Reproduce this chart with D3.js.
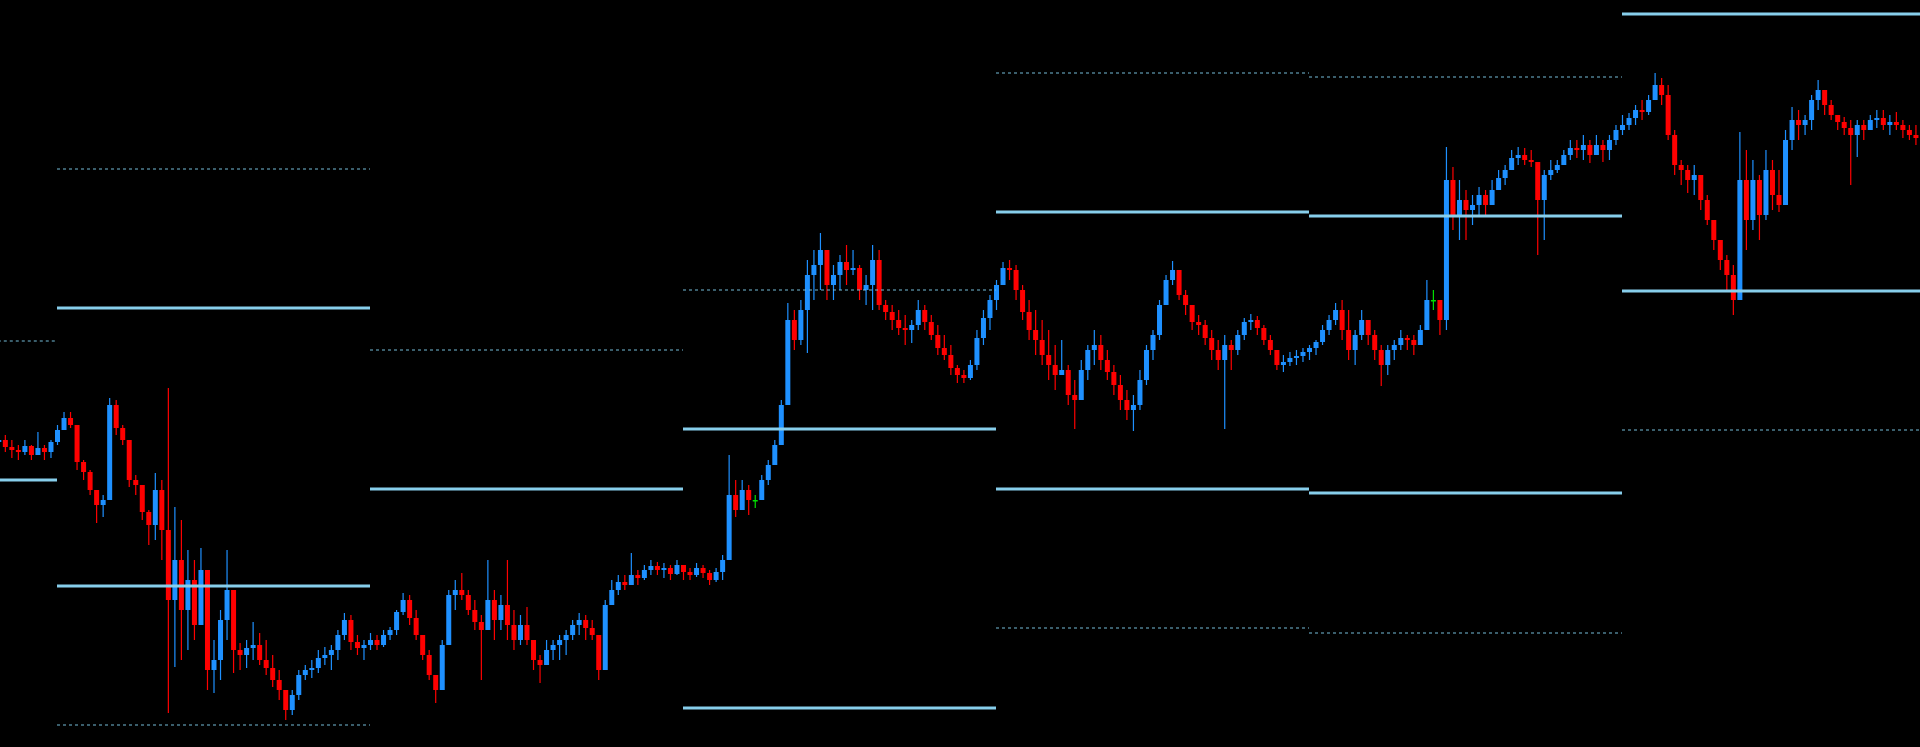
<!DOCTYPE html>
<html><head><meta charset="utf-8">
<script src="https://cdn.jsdelivr.net/npm/d3@7"></script>
<style>html,body{margin:0;padding:0;background:#000;overflow:hidden}</style>
</head><body>
<svg id="chart" width="1920" height="747"></svg>
<script>
// ---- price data (points) ----
const firstOpen = 305;
const highs = [317,312,307,302,307,302,315,302,307,322,335,335,322,287,277,257,252,349,347,322,
307,272,262,237,274,267,359,240,227,197,187,199,147,107,137,197,147,104,107,125,
114,107,92,77,54,57,77,82,87,97,100,102,117,134,132,112,107,114,112,117,
120,137,154,152,137,112,97,67,107,157,167,174,157,147,132,187,157,152,187,137,
132,140,107,92,107,107,112,117,127,134,132,127,107,147,167,172,172,194,177,182,
187,185,184,182,187,182,179,184,182,177,179,192,292,267,267,262,252,272,287,307,
347,444,437,447,487,497,514,497,482,492,502,497,482,472,502,497,447,442,437,432,
427,447,442,432,422,412,402,382,377,387,417,437,452,467,485,487,482,462,447,437,
427,417,402,407,382,367,387,402,417,412,397,382,372,357,352,377,402,417,447,472,
486,472,457,442,432,427,417,407,412,407,417,429,433,431,422,412,397,392,395,397,
399,402,407,422,432,444,447,437,417,437,427,417,402,402,407,417,412,412,422,467,
457,442,600,580,567,557,552,560,557,567,577,582,597,600,599,597,580,577,587,587,
597,607,607,612,607,612,607,612,622,632,634,642,647,652,674,669,662,617,587,582,
582,572,552,522,507,492,482,615,597,587,572,597,587,577,617,640,637,632,652,667,
657,647,632,630,627,627,627,632,637,637,632,635,627,622,622];
const lows = [300,295,289,287,292,287,292,287,289,302,317,319,277,267,252,224,230,247,312,302,
260,252,227,202,207,187,34,80,87,97,107,127,57,54,67,107,74,77,79,87,
82,72,60,47,27,32,47,67,69,74,82,77,87,107,97,92,87,97,97,100,
107,112,132,122,107,87,67,44,57,107,137,147,132,117,67,117,107,117,107,97,
102,102,77,64,82,87,87,92,107,112,107,107,67,77,142,152,157,162,162,167,
172,172,169,167,172,167,167,170,169,162,165,167,187,230,237,232,239,247,262,282,
302,347,397,402,394,447,457,447,447,457,462,472,447,442,437,437,427,417,412,402,
404,417,417,407,392,387,372,364,364,367,377,402,417,437,462,467,447,427,407,392,
382,367,357,372,342,318,347,367,382,377,367,352,337,327,316,337,362,387,407,442,
462,447,432,417,412,402,387,377,318,377,392,407,417,412,402,392,377,375,381,382,
385,387,392,402,412,422,407,387,382,407,402,387,361,372,387,397,397,392,402,417,
437,412,417,517,507,507,522,530,532,542,557,562,577,582,582,580,492,507,567,574,
582,587,589,587,584,592,585,587,602,612,617,622,627,632,647,642,607,572,562,554,
552,537,522,497,477,457,432,447,497,517,507,527,537,535,557,597,607,612,617,637,
632,627,617,612,562,590,607,617,619,617,612,617,609,607,602];
const closes = [307,300,297,295,301,292,299,295,305,317,329,322,285,275,257,242,247,342,319,307,
267,262,235,222,257,217,147,187,137,167,122,177,77,87,127,157,97,92,99,102,
87,79,67,57,37,52,72,77,79,89,92,97,112,127,105,99,102,107,102,112,
117,135,147,129,112,92,72,57,102,152,157,152,137,125,117,147,127,142,122,107,
122,107,87,82,97,102,107,112,122,127,119,112,77,142,157,165,162,172,169,177,
181,177,179,173,182,175,172,179,174,167,175,187,252,237,257,247,247,267,282,302,
342,427,407,437,472,482,497,462,472,485,477,479,457,462,487,442,435,427,419,417,
422,437,425,412,399,392,379,372,369,382,409,429,447,462,479,477,457,435,417,407,
392,382,372,377,352,347,377,397,402,387,375,362,347,337,342,367,397,412,442,467,
477,452,442,425,422,409,397,387,402,397,412,425,427,419,407,397,382,385,389,391,
395,399,405,417,427,437,417,397,412,427,412,397,382,397,402,409,407,402,417,447,
447,427,567,532,547,537,542,552,542,557,569,577,589,592,587,585,547,572,577,582,
592,599,597,602,592,602,597,607,617,622,629,637,635,647,662,652,612,582,577,567,
572,547,527,507,487,472,447,567,527,567,532,577,552,542,607,627,622,627,647,657,
642,632,625,619,612,622,617,627,629,622,625,622,617,612,609];

// ---- pivot periods ----
const periodStart = [-39, 9, 57, 105, 153, 201, 249];
const periodEnd   = [9, 57, 105, 153, 201, 249, 297];
const r2 = [406, 578, 397, 457, 674, 670, 872];
const r1 = [267, 439, 258, 318, 535, 531, 733];
const s1 = [-11, 161, -20, 39, 258, 254, 456];
const s2 = [-150, 22, -159, -100, 119, 114, 317];

const W = 1920, H = 747;
const svg = d3.select("#chart");
svg.append("rect").attr("width", W).attr("height", H).attr("fill", "#000");

const x = d3.scaleLinear().domain([9, 297]).range([57, 1935]);
const y = d3.scaleLinear().domain([0, 747]).range([H, 0]);

const bars = closes.map((c, i) => {
  const o = i === 0 ? firstOpen : closes[i - 1];
  return { i, o, c, h: Math.max(highs[i], o, c), l: Math.min(lows[i], o, c) };
});
const col = d => d.c > d.o ? "#1e90ff" : (d.c < d.o ? "#ff0000" : "#00e000");

const g = svg.append("g");
g.selectAll("line.wick").data(bars).join("line")
  .attr("class", "wick")
  .attr("x1", d => x(d.i) + 0.5).attr("x2", d => x(d.i) + 0.5)
  .attr("y1", d => y(d.h)).attr("y2", d => y(d.l))
  .attr("stroke", col).attr("stroke-width", 1.2);
g.selectAll("rect.body").data(bars).join("rect")
  .attr("class", "body")
  .attr("x", d => x(d.i) - 2).attr("width", 5)
  .attr("y", d => y(Math.max(d.o, d.c)))
  .attr("height", d => Math.max(1.5, Math.abs(y(d.o) - y(d.c))))
  .attr("fill", col);

const periods = periodStart.map((s, k) => ({ k, s: Math.max(s, -1), e: periodEnd[k] }));
const levels = [
  { vals: r2, dash: true }, { vals: r1, dash: false },
  { vals: s1, dash: false }, { vals: s2, dash: true }
];
const lg = svg.append("g");
levels.forEach(L => {
  lg.selectAll(null).data(periods).join("line")
    .attr("x1", d => x(d.s)).attr("x2", d => x(d.e))
    .attr("y1", d => y(L.vals[d.k])).attr("y2", d => y(L.vals[d.k]))
    .attr("stroke", L.dash ? "#74bcd8" : "#87ceeb")
    .attr("stroke-width", L.dash ? 1 : 3)
    .attr("stroke-dasharray", L.dash ? "3,3" : null);
});
</script>
</body></html>
